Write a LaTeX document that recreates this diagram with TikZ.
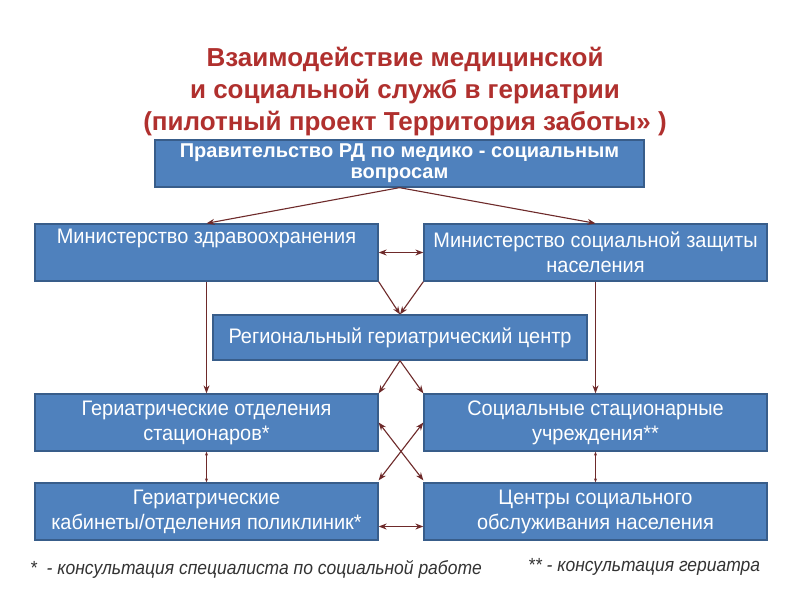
\documentclass[tikz,border=0pt]{standalone}
\usepackage{fontspec}
\setmainfont{Liberation Sans}
\newfontfamily\narrowfont[FakeStretch=0.95]{Liberation Sans}
\newfontfamily\notefont[FakeStretch=0.92]{Liberation Sans}
\usetikzlibrary{arrows.meta,calc}
\definecolor{boxfill}{HTML}{4F81BD}
\definecolor{boxline}{HTML}{385D8A}
\definecolor{arrowc}{HTML}{6E2A2A}
\definecolor{titlec}{HTML}{B0302E}
\definecolor{notec}{HTML}{333333}
\tikzset{
  box/.style={draw=boxline, fill=boxfill, line width=1.3pt, text=white, align=center, inner sep=0pt, minimum width=343pt, minimum height=57pt, font=\narrowfont\fontsize{21}{25}\selectfont},
  conn/.style={draw=arrowc, line width=1.1pt, -{Stealth[length=8pt,width=6pt]}},
  dconn/.style={draw=arrowc, line width=1.1pt, {Stealth[length=8pt,width=6pt]}-{Stealth[length=8pt,width=6pt]}},
  thin/.style={draw=arrowc, line width=0.5pt, {Stealth[length=4pt,width=3pt]}-{Stealth[length=4pt,width=3pt]}},
  note/.style={text=notec, anchor=base west, inner sep=0pt, font=\notefont\itshape\fontsize{19}{22}\selectfont}
}
\begin{document}
\begin{tikzpicture}[x=1pt,y=-1pt]
\useasboundingbox (0,0) rectangle (800,600);
\fill[white] (0,0) rectangle (800,600);
\node[text=titlec, align=center, font=\bfseries\fontsize{26}{32}\selectfont] (title) at (405,92) {Взаимодействие медицинской\\и социальной служб в гериатрии\\(пилотный проект Территория заботы» )};
\node[box, minimum width=489pt, minimum height=47pt, font=\bfseries\fontsize{20}{21}\selectfont] (gov) at (399.5,163.5) {Правительство РД по медико - социальным\\вопросам};
\node[box] (mz) at (206.5,252.5) {Министерство здравоохранения\\\strut};
\node[box] (msz) at (595.5,252.5) {Министерство социальной защиты\\населения};
\node[box, minimum width=374pt, minimum height=45pt] (rgc) at (400,337.5) {Региональный гериатрический центр};
\node[box] (god) at (206.5,422.5) {Гериатрические отделения\\стационаров*};
\node[box] (ssu) at (595.5,422.5) {Социальные стационарные\\учреждения**};
\node[box] (gk) at (206.5,511.5) {Гериатрические\\кабинеты/отделения поликлиник*};
\node[box] (cso) at (595.5,511.5) {Центры социального\\обслуживания населения};
\node[note] (n1) at (30,574) {*~~- консультация специалиста по социальной работе};
\node[note] (n2) at (528,571) {** - консультация гериатра};
\draw[conn] (gov.south) -- (mz.north);
\draw[conn] (gov.south) -- (msz.north);
\draw[dconn] (mz.east) -- (msz.west);
\draw[conn] (mz.south east) -- (rgc.north);
\draw[conn] (msz.south west) -- (rgc.north);
\draw[conn] (mz.south) -- (god.north);
\draw[conn] (msz.south) -- (ssu.north);
\draw[conn] (rgc.south) -- (god.north east);
\draw[conn] (rgc.south) -- (ssu.north west);
\draw[dconn] (god.east) -- ([yshift=2pt]cso.north west);
\draw[dconn] (ssu.west) -- ([yshift=2pt]gk.north east);
\draw[thin] (god.south) -- (gk.north);
\draw[thin] (ssu.south) -- (cso.north);
\draw[dconn] ([yshift=-15pt]gk.east) -- ([yshift=-15pt]cso.west);
\end{tikzpicture}
\end{document}
